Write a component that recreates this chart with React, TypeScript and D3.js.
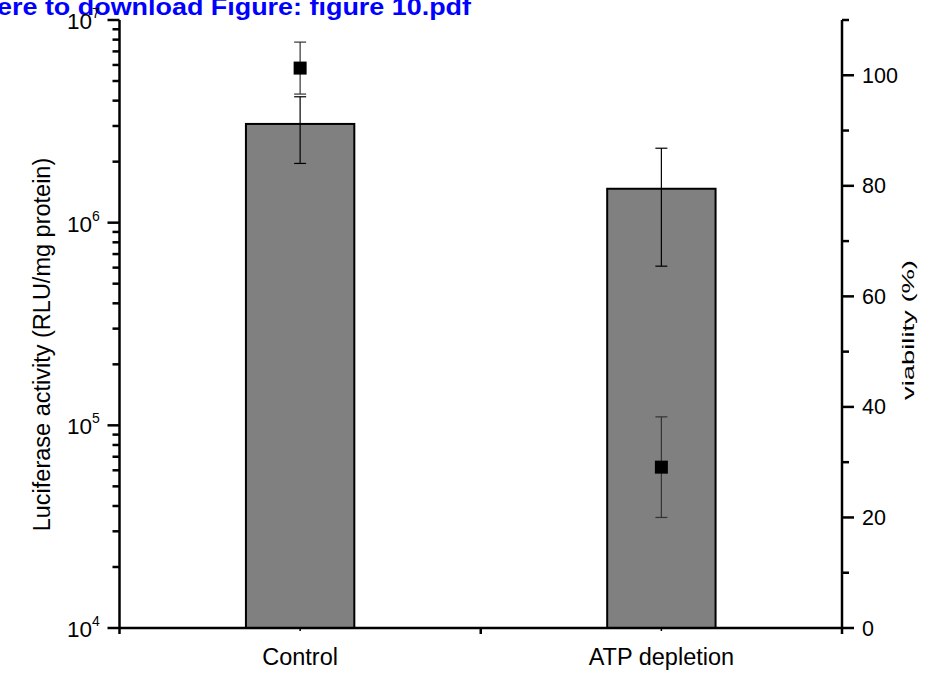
import React from "react";
import * as d3 from "d3";

const categories = ["Control", "ATP depletion"];
const luciferase = [3.07e6, 1.47e6];
const luciferaseErr = [1.11e6, 0.86e6];
const viability = [101.3, 29.1];
const viabilityErr = [4.7, 9.1];
const leftMajor = [1e4, 1e5, 1e6, 1e7];
const leftExp = ["4", "5", "6", "7"];
const rightMajor = [0, 20, 40, 60, 80, 100];
const rightMinor = [10, 30, 50, 70, 90, 110];

const W = 925;
const H = 673;
const X0 = 119.5;
const X1 = 842;
const Y0 = 628;
const Y1 = 20;

export default function App() {
  const x = d3.scaleLinear().domain([0.5, 2.5]).range([X0, X1]);
  const yL = d3.scaleLog().domain([1e4, 1e7]).range([Y0, Y1]);
  const yR = d3.scaleLinear().domain([0, 110]).range([Y0, Y1]);
  const barW = x(1.3) - x(1);

  const leftMinor: number[] = [];
  for (let e = 4; e < 7; e++) {
    for (let m = 2; m <= 9; m++) leftMinor.push(m * Math.pow(10, e));
  }

  const font = "Liberation Sans, Arial, sans-serif";
  const cap = 6;

  return (
    <svg
      width={W}
      height={H}
      style={{ position: "absolute", left: 0, top: 0, background: "#fff" }}
      fontFamily={font}
    >
      <rect x={0} y={0} width={W} height={H} fill="#fff" />
      <text
        x={-3}
        y={15}
        fontSize={24}
        fontWeight="bold"
        fill="#0000ff"
        textLength={474}
        lengthAdjust="spacingAndGlyphs"
      >
        ere to download Figure: figure 10.pdf
      </text>

      {/* bars */}
      {categories.map((c, i) => (
        <rect
          key={c}
          x={x(i + 1) - barW / 2}
          y={yL(luciferase[i])}
          width={barW}
          height={Y0 - yL(luciferase[i])}
          fill="#808080"
          stroke="#000"
          strokeWidth={2}
        />
      ))}

      {/* bar error bars */}
      {categories.map((c, i) => {
        const cx = x(i + 1);
        const t = yL(luciferase[i] + luciferaseErr[i]);
        const b = yL(luciferase[i] - luciferaseErr[i]);
        return (
          <g key={"e" + c} stroke="#000" strokeWidth={1.2}>
            <line x1={cx} x2={cx} y1={t} y2={b} />
            <line x1={cx - cap} x2={cx + cap} y1={t} y2={t} />
            <line x1={cx - cap} x2={cx + cap} y1={b} y2={b} />
          </g>
        );
      })}

      {/* viability error bars + points */}
      {categories.map((c, i) => {
        const cx = x(i + 1);
        const t = yR(viability[i] + viabilityErr[i]);
        const b = yR(viability[i] - viabilityErr[i]);
        const cy = yR(viability[i]);
        return (
          <g key={"v" + c}>
            <g stroke="#333" strokeWidth={1.2}>
              <line x1={cx} x2={cx} y1={t} y2={b} />
              <line x1={cx - cap} x2={cx + cap} y1={t} y2={t} />
              <line x1={cx - cap} x2={cx + cap} y1={b} y2={b} />
            </g>
            <rect x={cx - 6.5} y={cy - 6.5} width={13} height={13} fill="#000" />
          </g>
        );
      })}

      {/* axes */}
      <g stroke="#000" strokeWidth={2.5} fill="none">
        <line x1={X0} x2={X0} y1={Y1} y2={Y0 + 6} />
        <line x1={X1} x2={X1} y1={Y1} y2={Y0 + 6} />
        <line x1={X0} x2={X1} y1={Y0} y2={Y0} />
        {leftMajor.map((v) => (
          <line key={"lm" + v} x1={X0 - 12} x2={X0} y1={yL(v)} y2={yL(v)} />
        ))}
        {leftMinor.map((v) => (
          <line key={"ln" + v} x1={X0 - 7} x2={X0} y1={yL(v)} y2={yL(v)} />
        ))}
        {rightMajor.map((v) => (
          <line key={"rm" + v} x1={X1} x2={X1 + 12} y1={yR(v)} y2={yR(v)} />
        ))}
        {rightMinor.map((v) => (
          <line key={"rn" + v} x1={X1} x2={X1 + 7} y1={yR(v)} y2={yR(v)} />
        ))}
        {[1.5].map((v) => (
          <line key={"bm" + v} x1={x(v)} x2={x(v)} y1={Y0} y2={Y0 + 6} />
        ))}
      </g>
      <g stroke="#000" strokeWidth={1.5}>
        {categories.map((c, i) => (
          <line key={"bt" + c} x1={x(i + 1)} x2={x(i + 1)} y1={Y0} y2={Y0 + 3} />
        ))}
      </g>

      {/* left tick labels */}
      {leftMajor.map((v, i) => (
        <g key={"ll" + v}>
          <text x={92} y={yL(v) + 9} fontSize={22.5} textAnchor="end" fill="#000">
            10
          </text>
          <text x={92} y={yL(v) - 2} fontSize={14} fill="#000">
            {leftExp[i]}
          </text>
        </g>
      ))}

      {/* right tick labels */}
      {rightMajor.map((v) => (
        <text key={"rl" + v} x={862} y={yR(v) + 7.5} fontSize={21.5} fill="#000">
          {v}
        </text>
      ))}

      {/* category labels */}
      {categories.map((c, i) => (
        <text key={"cl" + c} x={x(i + 1)} y={665} fontSize={23.5} textAnchor="middle" fill="#000">
          {c}
        </text>
      ))}

      {/* axis titles */}
      <text
        transform="translate(50,344.5) rotate(-90)"
        fontSize={23.5}
        textAnchor="middle"
        fill="#000"
      >
        Luciferase activity (RLU/mg protein)
      </text>
      <text
        transform="translate(914,330) rotate(-90)"
        fontSize={17}
        textAnchor="middle"
        fill="#000"
        textLength={140}
        lengthAdjust="spacingAndGlyphs"
      >
        viability (%)
      </text>
    </svg>
  );
}
